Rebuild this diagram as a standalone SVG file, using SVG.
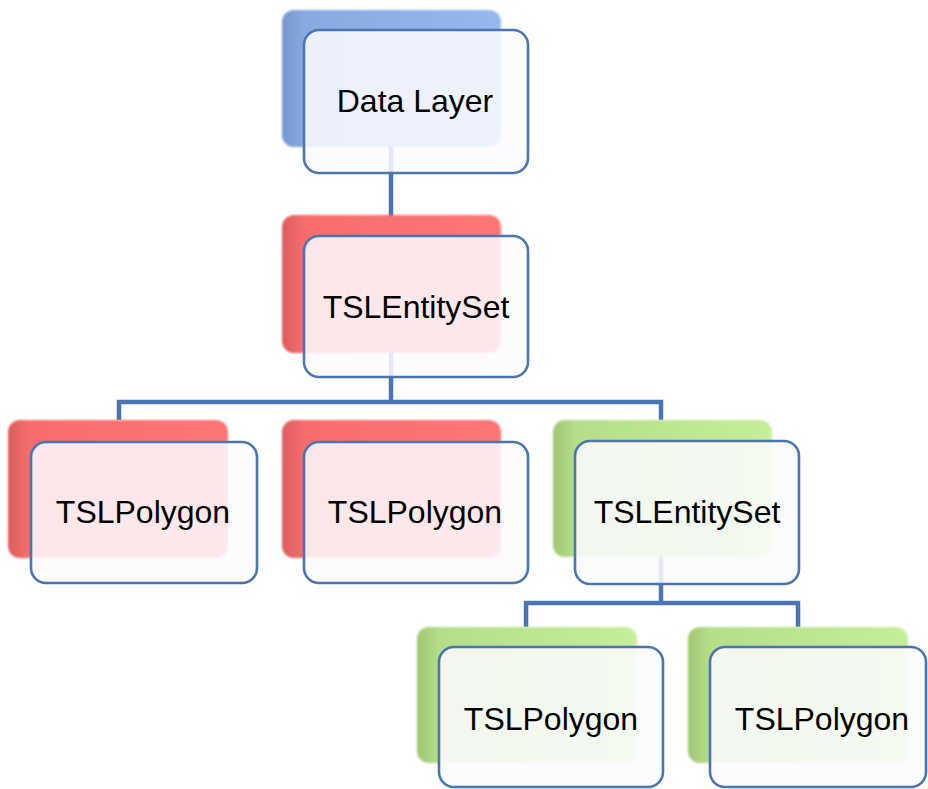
<svg xmlns="http://www.w3.org/2000/svg" width="928" height="789" viewBox="0 0 928 789">
<defs>
<linearGradient id="gBlue" x1="0" y1="0" x2="1" y2="0">
<stop offset="0" stop-color="#7496cc"/><stop offset="0.1" stop-color="#88aae0"/><stop offset="1" stop-color="#96b8ec"/>
</linearGradient>
<linearGradient id="gRed" x1="0" y1="0" x2="1" y2="0">
<stop offset="0" stop-color="#d95e5e"/><stop offset="0.1" stop-color="#f86c6c"/><stop offset="1" stop-color="#ff7676"/>
</linearGradient>
<linearGradient id="gGreen" x1="0" y1="0" x2="1" y2="0">
<stop offset="0" stop-color="#9fc673"/><stop offset="0.1" stop-color="#b6de8a"/><stop offset="1" stop-color="#c4ee98"/>
</linearGradient>
<filter id="soft" x="-5%" y="-5%" width="110%" height="110%"><feGaussianBlur stdDeviation="1.2"/></filter>
</defs>
<style>
.conn{fill:none;stroke:#4a74b2;stroke-width:4.5;stroke-linejoin:miter}
.back{filter:url(#soft)}
.front{fill:#fbfbff;fill-opacity:0.86;stroke:#4a74b2;stroke-width:2.6}
.lbl{font-family:"Liberation Sans",Arial,sans-serif;font-size:32px;fill:#000;text-anchor:middle}
</style>
<g id="connectors">
<path class="conn" d="M391 100 V402"/>
<path class="conn" d="M119 420 V402 H661 V420"/>
<path class="conn" d="M661 520 V603"/>
<path class="conn" d="M526 627 V603 H798 V627"/>
</g>
<g id="n-datalayer">
<rect class="back" x="282" y="10" width="219" height="137" rx="12" fill="url(#gBlue)"/>
<rect class="front" x="304" y="30" width="224" height="143" rx="15"/>
<text class="lbl" x="415" y="112">Data Layer</text>
</g>
<g id="n-entityset1">
<rect class="back" x="282" y="215" width="219" height="138" rx="12" fill="url(#gRed)"/>
<rect class="front" x="304" y="236" width="224" height="141" rx="15"/>
<text class="lbl" x="416" y="318">TSLEntitySet</text>
</g>
<g id="n-polygon1">
<rect class="back" x="8" y="420" width="220" height="138" rx="12" fill="url(#gRed)"/>
<rect class="front" x="31" y="442" width="226" height="141" rx="15"/>
<text class="lbl" x="143" y="523">TSLPolygon</text>
</g>
<g id="n-polygon2">
<rect class="back" x="282" y="420" width="219" height="138" rx="12" fill="url(#gRed)"/>
<rect class="front" x="304" y="442" width="224" height="141" rx="15"/>
<text class="lbl" x="415" y="523">TSLPolygon</text>
</g>
<g id="n-entityset2">
<rect class="back" x="553" y="420" width="219" height="137" rx="12" fill="url(#gGreen)"/>
<rect class="front" x="575" y="441" width="224" height="143" rx="15"/>
<text class="lbl" x="687" y="523">TSLEntitySet</text>
</g>
<g id="n-polygon3">
<rect class="back" x="417" y="627" width="220" height="136" rx="12" fill="url(#gGreen)"/>
<rect class="front" x="439" y="647" width="224" height="140" rx="15"/>
<text class="lbl" x="551" y="730">TSLPolygon</text>
</g>
<g id="n-polygon4">
<rect class="back" x="688" y="627" width="220" height="136" rx="12" fill="url(#gGreen)"/>
<rect class="front" x="710" y="647" width="216" height="140" rx="15"/>
<text class="lbl" x="822" y="730">TSLPolygon</text>
</g>
</svg>
